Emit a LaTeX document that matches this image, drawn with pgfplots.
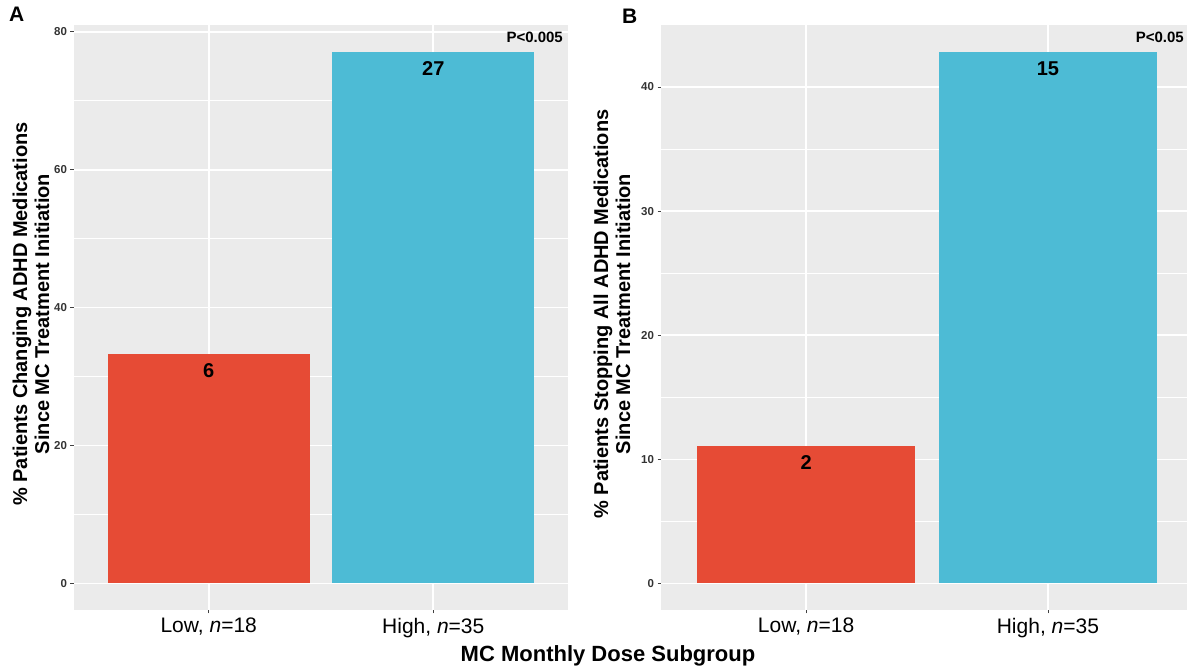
\documentclass[border=0pt]{standalone}
\usepackage{fontspec}
\setmainfont{Liberation Sans}
\usepackage{pgfplots}
\pgfplotsset{compat=1.18}
\definecolor{npgred}{HTML}{E64B35}
\definecolor{npgblue}{HTML}{4DBBD5}
\definecolor{panelbg}{HTML}{EBEBEB}
\definecolor{ticktext}{HTML}{333333}

\pgfplotsset{ggpanel/.style={
  scale only axis, anchor=south west,
  xmin=0.4, xmax=2.6,
  axis background/.style={fill=panelbg},
  axis line style={draw=none},
  grid=both,
  major grid style={white, line width=1.6pt},
  minor grid style={white, line width=0.8pt},
  xtick={1,2},
  xticklabels={{Low, \textit{n}=18},{High, \textit{n}=35}},
  xticklabel style={font=\fontsize{21}{24}\selectfont, text=black, yshift=-1pt},
  yticklabel style={font=\fontsize{11.5}{13}\selectfont\bfseries, text=ticktext},
  tick align=outside, major tick length=3.5pt, minor tick length=0pt,
  tick pos=left,
  tick style={color=gray!50!black, line width=0.8pt},
  /pgf/number format/assume math mode=true,
  clip=false,
  every node near coord/.style={anchor=north, inner sep=0pt, yshift=-10pt,
     font=\fontsize{20}{24}\selectfont\bfseries, text=black},
}}

\begin{document}
\begin{tikzpicture}[x=1pt,y=1pt]
\useasboundingbox (0,0) rectangle (1187,668);

% Panel A
\begin{axis}[ggpanel, at={(74pt,58pt)}, width=494pt, height=585pt,
  ymin=-3.857, ymax=81.0,
  ytick={0,20,40,60,80}, minor ytick={10,30,50,70}]
\addplot[ybar, bar width=0.9, bar shift=0pt, fill=npgred, draw=none,
  nodes near coords, point meta=explicit symbolic] coordinates {(1,33.333) [6]};
\addplot[ybar, bar width=0.9, bar shift=0pt, fill=npgblue, draw=none,
  nodes near coords, point meta=explicit symbolic] coordinates {(2,77.143) [27]};
\end{axis}

% Panel B
\begin{axis}[ggpanel, at={(661pt,58pt)}, width=532pt, height=585pt,
  ymin=-2.143, ymax=45.0,
  ytick={0,10,20,30,40}, minor ytick={5,15,25,35}]
\addplot[ybar, bar width=0.9, bar shift=0pt, fill=npgred, draw=none,
  nodes near coords, point meta=explicit symbolic] coordinates {(1,11.111) [2]};
\addplot[ybar, bar width=0.9, bar shift=0pt, fill=npgblue, draw=none,
  nodes near coords, point meta=explicit symbolic] coordinates {(2,42.857) [15]};
\end{axis}

% annotations
\node[anchor=base west, inner sep=0pt, font=\fontsize{21}{24}\selectfont\bfseries] at (9,646) {A};
\node[anchor=base west, inner sep=0pt, font=\fontsize{21}{24}\selectfont\bfseries] at (622,644) {B};
\node[anchor=north east, inner sep=0pt, font=\fontsize{15}{18}\selectfont\bfseries] at (563,636) {P<0.005};
\node[anchor=north east, inner sep=0pt, font=\fontsize{15}{18}\selectfont\bfseries] at (1184,636) {P<0.05};
\node[rotate=90, align=center, inner sep=0pt, font=\fontsize{20}{22}\selectfont\bfseries] at (31,354)
  {\% Patients Changing ADHD Medications\\Since MC Treatment Initiation};
\node[rotate=90, align=center, inner sep=0pt, font=\fontsize{20}{22}\selectfont\bfseries] at (612,354)
  {\% Patients Stopping All ADHD Medications\\Since MC Treatment Initiation};
\node[anchor=base, inner sep=0pt, font=\fontsize{22}{26}\selectfont\bfseries] at (608,6) {MC Monthly Dose Subgroup};
\end{tikzpicture}
\end{document}
